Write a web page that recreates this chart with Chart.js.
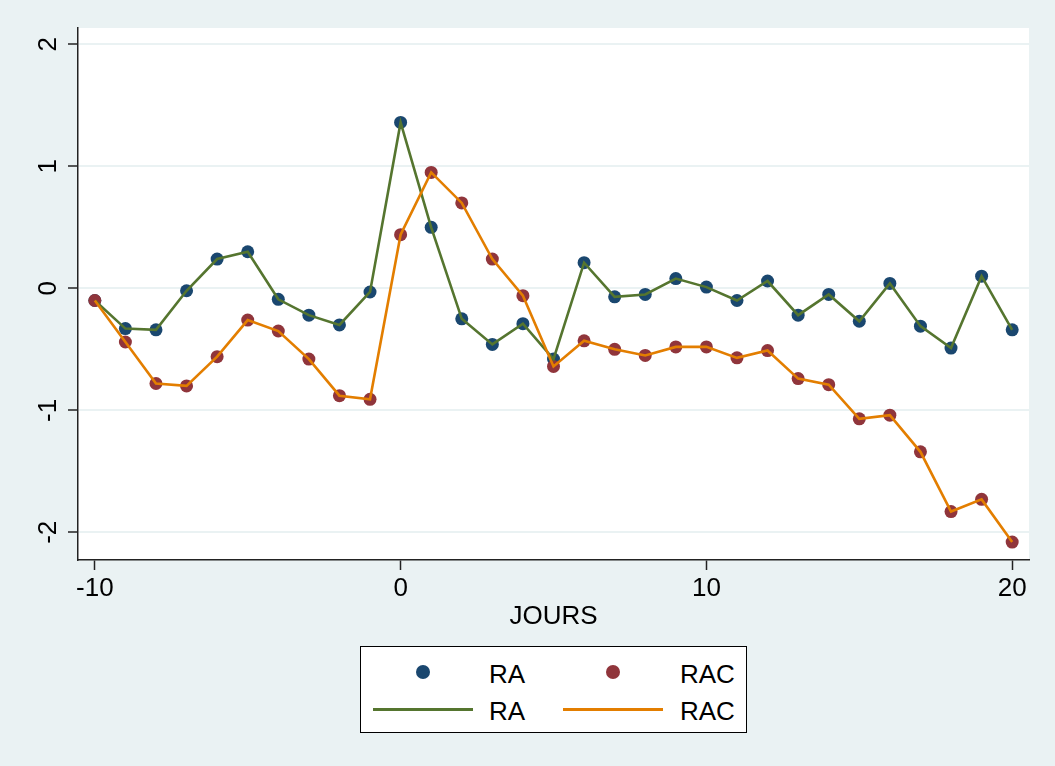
<!DOCTYPE html>
<html>
<head>
<meta charset="utf-8">
<script src="https://cdn.jsdelivr.net/npm/chart.js@4"></script>
<style>
    html, body { margin: 0; padding: 0; background: #EAF2F3; }
    #wrap { position: relative; width: 1055px; height: 766px; }
    #legend {
        position: absolute; left: 360px; top: 646px; width: 385px; height: 85px;
        background: #fff; border: 1px solid #000;
        font-family: "Liberation Sans", Arial, Helvetica, sans-serif; font-size: 26px; color: #000;
    }
    #legend .dot { position: absolute; width: 14px; height: 14px; border-radius: 50%; }
    #legend .ln { position: absolute; width: 100px; height: 3px; }
    #legend .txt { position: absolute; line-height: 30px; }
</style>
</head>
<body>
<div id="wrap">
    <canvas id="graph" width="1055" height="766"></canvas>
    <div id="legend"></div>
</div>
<script>
const jours = [-10, -9, -8, -7, -6, -5, -4, -3, -2, -1, 0, 1, 2, 3, 4, 5, 6, 7, 8, 9, 10, 11, 12, 13, 14, 15, 16, 17, 18, 19, 20];
const ra = [-0.10, -0.33, -0.34, -0.02, 0.24, 0.30, -0.09, -0.22, -0.30, -0.03, 1.36,
    0.50, -0.25, -0.46, -0.29, -0.58, 0.21, -0.07, -0.05, 0.08, 0.01,
    -0.10, 0.06, -0.22, -0.05, -0.27, 0.04, -0.31, -0.49, 0.10, -0.34];
const rac = [-0.10, -0.44, -0.78, -0.80, -0.56, -0.26, -0.35, -0.58, -0.88, -0.91, 0.44,
    0.95, 0.70, 0.24, -0.06, -0.64, -0.43, -0.50, -0.55, -0.48, -0.48,
    -0.57, -0.51, -0.74, -0.79, -1.07, -1.04, -1.34, -1.83, -1.73, -2.08];
const xTicks = [-10, 0, 10, 20];
const yTicks = [-2, -1, 0, 1, 2];

const NAVY = "#1A476F", MAROON = "#90353B", GREEN = "#55752F", ORANGE = "#E37E00";
const BG = "#EAF2F3";
const FONT = "'Liberation Sans', Arial, Helvetica, sans-serif";

function pts(ys) {
    return jours.map((x, i) => ({ x: x, y: ys[i] }));
}

// stata-like backdrop: light outer region, white plot region
const backdrop = {
    id: "backdrop",
    beforeDraw(chart) {
        const { ctx, chartArea: a } = chart;
        ctx.save();
        ctx.fillStyle = BG;
        ctx.fillRect(0, 0, chart.width, chart.height);
        ctx.fillStyle = "#fff";
        ctx.fillRect(a.left, a.top, a.right - a.left, a.bottom - a.top);
        ctx.restore();
    }
};

// y tick labels written sideways (reading upwards), centred on their ticks
const yLabels = {
    id: "yLabels",
    afterDraw(chart) {
        const { ctx } = chart;
        const y = chart.scales.y;
        ctx.save();
        ctx.fillStyle = "#000";
        ctx.font = "26px " + FONT;
        ctx.textAlign = "center";
        ctx.textBaseline = "middle";
        for (const v of yTicks) {
            ctx.save();
            ctx.translate(49, y.getPixelForValue(v));
            ctx.rotate(-Math.PI / 2);
            ctx.fillText(String(v), 0, 0);
            ctx.restore();
        }
        ctx.restore();
    }
};

new Chart(document.getElementById("graph"), {
    type: "scatter",
    data: {
        datasets: [
            { label: "RA", data: pts(ra), showLine: false, pointRadius: 6.5, pointHoverRadius: 6.5,
              backgroundColor: NAVY, borderColor: NAVY, borderWidth: 0, order: 4 },
            { label: "RAC", data: pts(rac), showLine: false, pointRadius: 6.5, pointHoverRadius: 6.5,
              backgroundColor: MAROON, borderColor: MAROON, borderWidth: 0, order: 3 },
            { label: "RA", data: pts(ra), showLine: true, pointRadius: 0, borderColor: GREEN,
              borderWidth: 2.6, tension: 0, order: 2 },
            { label: "RAC", data: pts(rac), showLine: true, pointRadius: 0, borderColor: ORANGE,
              borderWidth: 2.6, tension: 0, order: 1 }
        ]
    },
    options: {
        responsive: false,
        animation: false,
        layout: { padding: { left: 0, top: 28, right: 26, bottom: 126 } },
        plugins: { legend: { display: false }, tooltip: { enabled: false } },
        scales: {
            x: {
                type: "linear", min: -10.55, max: 20.55,
                afterBuildTicks: (s) => { s.ticks = xTicks.map(v => ({ value: v })); },
                afterFit: (s) => { s.height = 80; },
                grid: { drawOnChartArea: false, tickLength: 10, tickColor: "#222", tickWidth: 1.5 },
                border: { color: "#222", width: 1.5 },
                ticks: { color: "#000", font: { family: FONT, size: 26 }, padding: 3, maxRotation: 0 },
                title: { display: true, text: "JOURS", color: "#000", font: { family: FONT, size: 26 },
                         padding: { top: 0, bottom: 8 } }
            },
            y: {
                type: "linear", min: -2.227, max: 2.134,
                afterBuildTicks: (s) => { s.ticks = yTicks.map(v => ({ value: v })); },
                afterFit: (s) => { s.width = 78; },
                grid: { color: BG, lineWidth: 2, tickLength: 10, tickColor: "#222", tickWidth: 1.5 },
                border: { color: "#222", width: 1.5 },
                ticks: { display: false }
            }
        }
    },
    plugins: [backdrop, yLabels]
});

// legend: marker row on top, line row beneath, as in the plotted order
const legend = document.getElementById("legend");
const items = [
    { kind: "dot", color: NAVY, text: "RA", cx: 62, cy: 25, tx: 128 },
    { kind: "dot", color: MAROON, text: "RAC", cx: 252, cy: 25, tx: 319 },
    { kind: "ln", color: GREEN, text: "RA", cx: 62, cy: 62, tx: 128 },
    { kind: "ln", color: ORANGE, text: "RAC", cx: 252, cy: 62, tx: 319 }
];
for (const it of items) {
    const m = document.createElement("div");
    m.className = it.kind;
    m.style.background = it.color;
    if (it.kind === "dot") {
        m.style.left = (it.cx - 7) + "px";
        m.style.top = (it.cy - 7) + "px";
    } else {
        m.style.left = (it.cx - 50) + "px";
        m.style.top = (it.cy - 1.5) + "px";
    }
    legend.appendChild(m);
    const t = document.createElement("div");
    t.className = "txt";
    t.textContent = it.text;
    t.style.left = it.tx + "px";
    t.style.top = (it.cy + 2 - 15) + "px";
    legend.appendChild(t);
}
</script>
</body>
</html>
